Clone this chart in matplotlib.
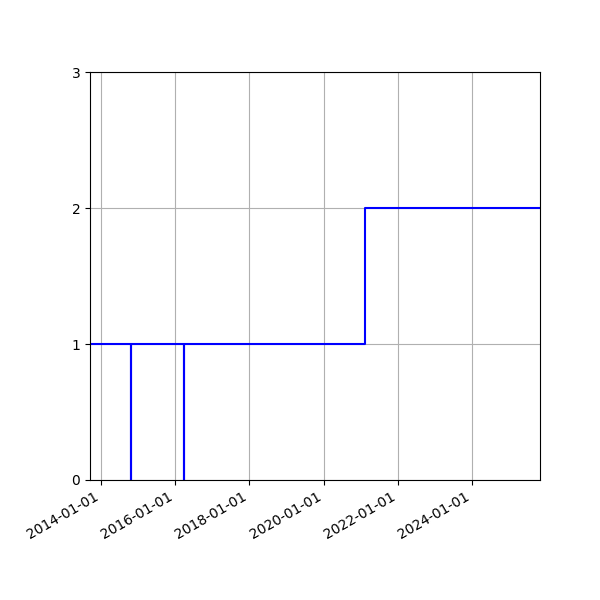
import matplotlib
matplotlib.use("Agg")
import matplotlib.pyplot as plt
import matplotlib.dates as mdates
import numpy as np

# step series: value holds from each date until the next one
dates = np.array([
    "2013-09-14",
    "2014-10-24",
    "2014-10-26",
    "2016-03-30",
    "2016-04-01",
    "2021-02-10",
    "2025-11-02",
], dtype="datetime64[D]")
values = [1, 0, 1, 0, 1, 2, 2]

fig = plt.figure(figsize=(6, 6), dpi=100)
ax = fig.add_subplot(1, 1, 1)

ax.plot(dates, values, drawstyle="steps-post", color="blue", linewidth=1.5)

ax.set_xlim(dates[0], dates[-1])
ax.set_ylim(0, 3)
ax.set_yticks([0, 1, 2, 3])
ax.xaxis.set_major_locator(mdates.YearLocator(2))
ax.xaxis.set_major_formatter(mdates.DateFormatter("%Y-%m-%d"))
ax.grid(True)

fig.autofmt_xdate()
fig.subplots_adjust(left=0.15, right=0.9, bottom=0.2, top=0.88)
fig.savefig("out.png")
